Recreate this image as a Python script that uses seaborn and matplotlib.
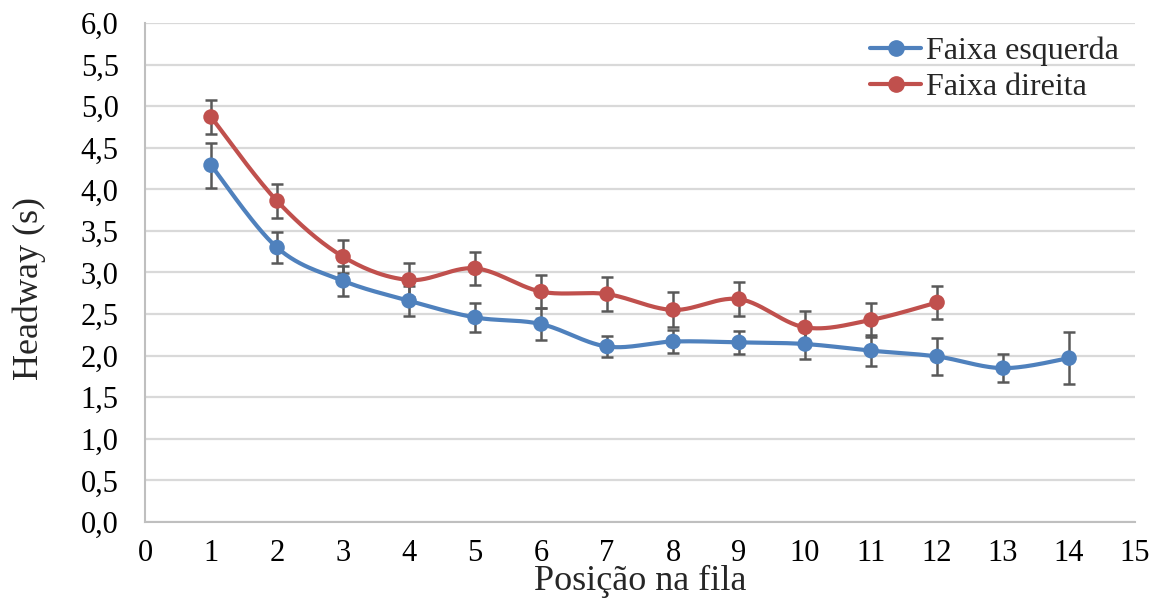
import numpy as np
import pandas as pd
import matplotlib
matplotlib.use("Agg")
import matplotlib.pyplot as plt
from matplotlib.lines import Line2D
from matplotlib.ticker import FuncFormatter
import seaborn as sns

# Queue position and mean headway per lane
positions_left = [1, 2, 3, 4, 5, 6, 7, 8, 9, 10, 11, 12, 13, 14]
headway_left = [4.29, 3.30, 2.90, 2.66, 2.46, 2.38, 2.11, 2.17, 2.16, 2.14, 2.06, 1.99, 1.85, 1.97]
err_left = [0.27, 0.19, 0.18, 0.18, 0.17, 0.19, 0.13, 0.14, 0.14, 0.18, 0.19, 0.22, 0.17, 0.31]

positions_right = [1, 2, 3, 4, 5, 6, 7, 8, 9, 10, 11, 12]
headway_right = [4.87, 3.86, 3.19, 2.91, 3.05, 2.77, 2.74, 2.55, 2.68, 2.34, 2.43, 2.64]
err_right = [0.20, 0.20, 0.20, 0.20, 0.20, 0.20, 0.20, 0.21, 0.20, 0.20, 0.20, 0.20]

series_names = ["Faixa esquerda", "Faixa direita"]
colors = {"Faixa esquerda": "#4F81BD", "Faixa direita": "#C0504D"}

x_ticks = list(range(0, 16))
y_ticks = [i * 0.5 for i in range(13)]


def smooth_curve(x, y, n=30):
    """Bezier smoothing through every point (Catmull-Rom style control points)."""
    p = np.column_stack([x, y]).astype(float)
    p_ext = np.vstack([p[0], p, p[-1]])
    xs, ys = [], []
    t = np.linspace(0, 1, n)
    for i in range(1, len(p_ext) - 2):
        p0, p1, p2, p3 = p_ext[i - 1], p_ext[i], p_ext[i + 1], p_ext[i + 2]
        c1 = p1 + (p2 - p0) / 6.0
        c2 = p2 - (p3 - p1) / 6.0
        b = ((1 - t) ** 3)[:, None] * p1 + (3 * (1 - t) ** 2 * t)[:, None] * c1 \
            + (3 * (1 - t) * t ** 2)[:, None] * c2 + (t ** 3)[:, None] * p2
        xs.extend(b[:, 0])
        ys.extend(b[:, 1])
    return xs, ys


points = pd.concat([
    pd.DataFrame({"pos": positions_left, "headway": headway_left, "err": err_left, "faixa": series_names[0]}),
    pd.DataFrame({"pos": positions_right, "headway": headway_right, "err": err_right, "faixa": series_names[1]}),
], ignore_index=True)

curves = []
for name in series_names:
    sub = points[points["faixa"] == name]
    cx, cy = smooth_curve(sub["pos"].values, sub["headway"].values)
    curves.append(pd.DataFrame({"pos": cx, "headway": cy, "faixa": name}))
curves = pd.concat(curves, ignore_index=True)

sns.set_theme(style="white")
plt.rcParams["font.family"] = ["Liberation Serif", "DejaVu Serif"]

fig = plt.figure(figsize=(11.52, 6.02), dpi=100)
ax = fig.add_axes([0.1259, 0.1329, 0.8594, 0.8289])

ax.set_axisbelow(True)
ax.yaxis.grid(True, color="#d9d9d9", linewidth=1.6)
ax.xaxis.grid(False)

sns.lineplot(data=curves, x="pos", y="headway", hue="faixa", palette=colors,
             linewidth=3, sort=False, estimator=None, legend=False, ax=ax, zorder=2)

for name in series_names:
    sub = points[points["faixa"] == name]
    ax.errorbar(sub["pos"], sub["headway"], yerr=sub["err"], fmt="none",
                ecolor="#595959", elinewidth=1.8, capsize=4.5, capthick=1.8, zorder=3)

sns.scatterplot(data=points, x="pos", y="headway", hue="faixa", palette=colors,
                s=125, edgecolor="none", legend=False, ax=ax, zorder=4)

ax.set_xlim(0, 15)
ax.set_ylim(0, 6)
ax.set_xticks(x_ticks)
ax.set_yticks(y_ticks)
ax.yaxis.set_major_formatter(FuncFormatter(lambda v, _: f"{v:.1f}".replace(".", ",")))
ax.tick_params(axis="both", length=0, labelsize=22, colors="black")
ax.tick_params(axis="y", pad=19)
ax.tick_params(axis="x", pad=12)

for side in ["top", "right"]:
    ax.spines[side].set_visible(False)
for side in ["left", "bottom"]:
    ax.spines[side].set_color("#bfbfbf")
    ax.spines[side].set_linewidth(1.5)

ax.set_xlabel("Posição na fila", fontsize=26, labelpad=-2)
ax.set_ylabel("Headway (s)", fontsize=26)
ax.yaxis.set_label_coords(-0.1, 0.467)

handles = [Line2D([0], [0], color=colors[n], linewidth=3, marker="o", markersize=11) for n in series_names]
ax.legend(handles, series_names, loc="upper right", bbox_to_anchor=(1.0, 1.005), frameon=False,
          fontsize=23, handlelength=1.6, handletextpad=0.15, labelspacing=0.2, borderaxespad=0.1)

fig.savefig("out.png", dpi=100, facecolor="white")
